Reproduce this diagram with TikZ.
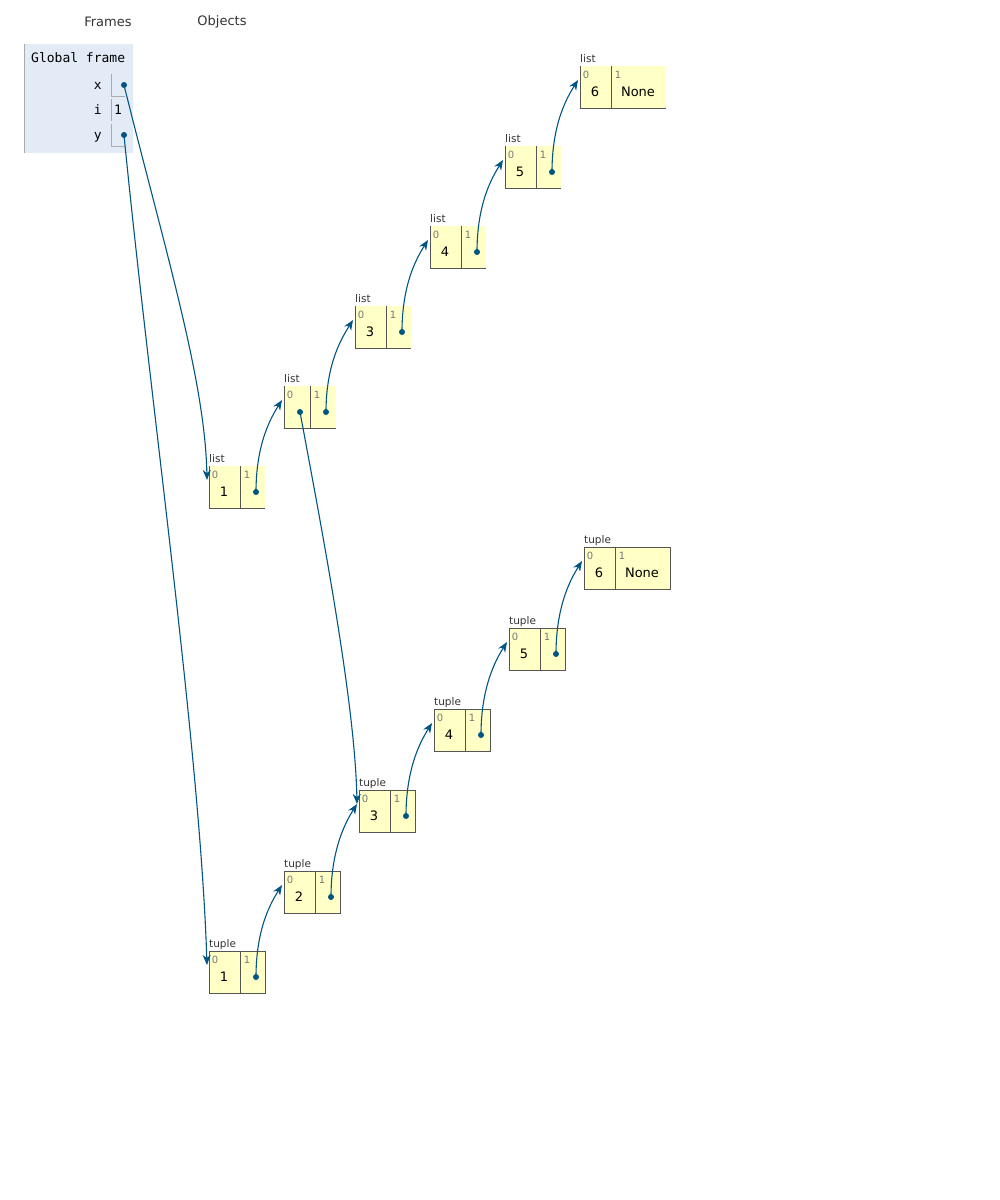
\documentclass[tikz,border=0pt]{standalone}
\usepackage{fontspec}
\setmainfont{DejaVu Sans}
\newfontfamily\pymono{DejaVu Sans Mono}
\usetikzlibrary{arrows.meta,calc}
\definecolor{ptrblue}{HTML}{005583}
\definecolor{objyellow}{HTML}{FFFFC6}
\definecolor{framebg}{HTML}{E2EBF6}
\definecolor{framegray}{HTML}{AAAAAA}
\definecolor{boxgray}{HTML}{555555}
\definecolor{idxgray}{HTML}{777777}
\definecolor{hdrgray}{HTML}{333333}
\newcommand{\pyobj}[6]{%
  \node[objbg, minimum width=#4pt] (#1) at (#2,#3) {};
  \coordinate (#1div) at ($(#1.north west)+(#5,0)$);
  \node[typelbl] (#1t) at ($(#1.north west)+(0,-4)$) {#6};
  \node[idx] (#1i0) at ($(#1.north west)+(6,9)$) {0};
  \node[idx] (#1i1) at ($(#1div)+(7,9)$) {1};
  \coordinate (#1in) at ($(#1.north west)+(-2,14)$);
}
\begin{document}
\begin{tikzpicture}[x=1pt,y=-1pt,
  objbg/.style={fill=objyellow, draw=none, minimum height=42pt, inner sep=0pt, anchor=north west},
  boxline/.style={draw=boxgray, line width=1pt},
  typelbl/.style={font=\fontsize{10.5}{12}\selectfont, text=hdrgray, inner sep=0pt, anchor=base west},
  idx/.style={font=\fontsize{10}{11}\selectfont, text=idxgray, inner sep=0pt},
  val/.style={font=\fontsize{13}{15}\selectfont, inner sep=0pt},
  dot/.style={circle, fill=ptrblue, inner sep=0pt, minimum size=6pt},
  ptr/.style={draw=ptrblue, line width=1.1pt, -{Stealth[length=10pt,width=8pt,inset=3pt]}},
  hdr/.style={font=\fontsize{13}{15}\selectfont, text=hdrgray, inner sep=0pt},
  mono/.style={font=\pymono\fontsize{13}{15}\selectfont, inner sep=0pt}]
\useasboundingbox (0,0) rectangle (1000,1200);

% headers
\node[hdr] (hframes) at (108,22) {Frames};
\node[hdr] (hobjects) at (222,22) {Objects};

% global frame
\node[fill=framebg, minimum width=109pt, minimum height=109pt, anchor=north west, inner sep=0pt] (gf) at (24,44) {};
\draw[framegray, line width=1pt] (gf.north west) -- (gf.south west);
\node[mono, anchor=base west] (gft) at (31,62) {Global frame};
\node[mono, anchor=base east] (vx) at (102,89) {x};
\node[mono, anchor=base east] (vi) at (102,114) {i};
\node[mono, anchor=base east] (vy) at (102,139) {y};
\draw[framegray, line width=1pt] (111,74) |- (125,96);
\draw[framegray, line width=1pt] (111,99) -- (111,121);
\draw[framegray, line width=1pt] (111,124) |- (125,146);
\node[mono] (vival) at (118,110) {1};
\node[dot] (xd) at (124,85) {};
\node[dot] (yd) at (124,135) {};

% objects
\pyobj{L1}{209}{466}{56}{31}{list}
\pyobj{L2}{284}{386}{52}{26}{list}
\pyobj{L3}{355}{306}{56}{31}{list}
\pyobj{L4}{430}{226}{56}{31}{list}
\pyobj{L5}{505}{146}{56}{31}{list}
\pyobj{L6}{580}{66}{86}{31}{list}
\pyobj{T1}{209}{951}{56}{31}{tuple}
\pyobj{T2}{284}{871}{56}{31}{tuple}
\pyobj{T3}{359}{790}{56}{31}{tuple}
\pyobj{T4}{434}{709}{56}{31}{tuple}
\pyobj{T5}{509}{628}{56}{31}{tuple}
\pyobj{T6}{584}{547}{86}{31}{tuple}

% list borders (left, bottom, divider)
\foreach \n in {L1,L2,L3,L4,L5,L6}{
  \draw[boxline] (\n.north west) |- (\n.south east);
  \draw[boxline] (\n div) -- (\n div |- \n.south);
}
% tuple borders (full box, divider)
\foreach \n in {T1,T2,T3,T4,T5,T6}{
  \draw[boxline] (\n.north west) rectangle (\n.south east);
  \draw[boxline] (\n div) -- (\n div |- \n.south);
}

% values
\node[val] (L1v) at ($(L1.north west)+(15,26)$) {1};
\node[val] (L3v) at ($(L3.north west)+(15,26)$) {3};
\node[val] (L4v) at ($(L4.north west)+(15,26)$) {4};
\node[val] (L5v) at ($(L5.north west)+(15,26)$) {5};
\node[val] (L6v) at ($(L6.north west)+(15,26)$) {6};
\node[val] (L6n) at ($(L6div)+(27,26)$) {None};
\node[val] (T1v) at ($(T1.north west)+(15,26)$) {1};
\node[val] (T2v) at ($(T2.north west)+(15,26)$) {2};
\node[val] (T3v) at ($(T3.north west)+(15,26)$) {3};
\node[val] (T4v) at ($(T4.north west)+(15,26)$) {4};
\node[val] (T5v) at ($(T5.north west)+(15,26)$) {5};
\node[val] (T6v) at ($(T6.north west)+(15,26)$) {6};
\node[val] (T6n) at ($(T6div)+(27,26)$) {None};

% pointer dots
\node[dot] (L2d0) at ($(L2.north west)+(16,26)$) {};
\foreach \n in {L1,L2,L3,L4,L5,T1,T2,T3,T4,T5}{
  \node[dot] (\n d1) at ($(\n div)+(16,26)$) {};
}

% pointers
\draw[ptr] (xd.center) .. controls +(41,165) and +(-2,-100) .. (L1in);
\draw[ptr] (yd.center) .. controls +(26,265) and +(-7,-215) .. (T1in);
\draw[ptr] (L2d0.center) .. controls +(20,108) and +(-2,-104) .. (T3in);
\draw[ptr] (L1d1.center) .. controls +(0,-50) and +(-10,16) .. (L2in);
\draw[ptr] (L2d1.center) .. controls +(0,-50) and +(-10,16) .. (L3in);
\draw[ptr] (L3d1.center) .. controls +(0,-50) and +(-10,16) .. (L4in);
\draw[ptr] (L4d1.center) .. controls +(0,-50) and +(-10,16) .. (L5in);
\draw[ptr] (L5d1.center) .. controls +(0,-50) and +(-10,16) .. (L6in);
\draw[ptr] (T1d1.center) .. controls +(0,-50) and +(-10,16) .. (T2in);
\draw[ptr] (T2d1.center) .. controls +(0,-50) and +(-10,16) .. (T3in);
\draw[ptr] (T3d1.center) .. controls +(0,-50) and +(-10,16) .. (T4in);
\draw[ptr] (T4d1.center) .. controls +(0,-50) and +(-10,16) .. (T5in);
\draw[ptr] (T5d1.center) .. controls +(0,-50) and +(-10,16) .. (T6in);
\end{tikzpicture}
\end{document}
